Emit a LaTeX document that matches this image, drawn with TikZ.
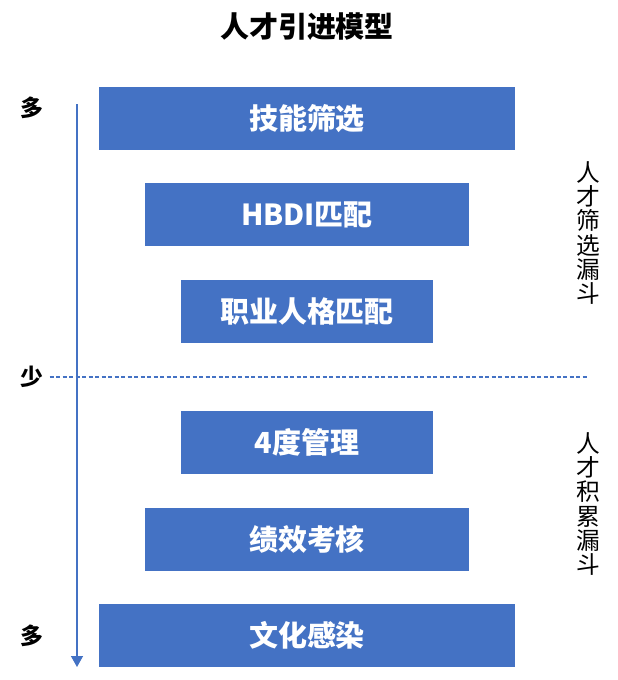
\documentclass[tikz,border=0pt]{standalone}
\usepackage{fontspec}
\setmainfont{Noto Sans CJK SC}
\usetikzlibrary{arrows.meta, positioning}
\definecolor{funnel_blue}{RGB}{68, 114, 196}

\begin{document}
\begin{tikzpicture}[
    x=0.02cm, y=-0.02cm,
    % Define the stage box style
    stagebox/.style={
        rectangle,
        minimum width=#1,
        minimum height=1.26cm,
        inner sep=0pt,
        fill=funnel_blue,
        text=white,
        font=\fontsize{16.5}{20}\selectfont\bfseries
    },
    % Side mark style
    amount/.style={
        text=black,
        font=\fontsize{13}{15}\selectfont\bfseries
    },
    % Vertical funnel label style
    funnel/.style={
        align=center,
        text=black,
        font=\fontsize{13.5}{13.7}\selectfont
    }
]
\useasboundingbox (0,0) rectangle (618,680);

\node[font=\fontsize{16.5}{20}\selectfont\bfseries] (title) at (307,27) {人才引进模型};

% Position the six stages
\node[stagebox=8.32cm] (skill) at (307,118.5) {技能筛选};
\node[stagebox=6.48cm] (hbdi) at (307,214.5) {HBDI匹配};
\node[stagebox=5.04cm] (career) at (307,311.5) {职业人格匹配};
\node[stagebox=5.04cm] (degree) at (307,442.5) {4度管理};
\node[stagebox=6.48cm] (perf) at (307,539.5) {绩效考核};
\node[stagebox=8.32cm] (culture) at (307,635.5) {文化感染};

% Amount marks on the left
\node[amount] (many_top) at (32,108) {多};
\node[amount] (few) at (32,377) {少};
\node[amount] (many_bottom) at (32,636) {多};

% Axis arrow and divider
\coordinate (axis_top) at (77,104);
\coordinate (axis_bottom) at (77,667);
\coordinate (divider_end) at (588,377);
\draw[funnel_blue, line width=0.8pt, -{Triangle[width=0.24cm, length=0.22cm]}] (axis_top) -- (axis_bottom);
\draw[funnel_blue, line width=0.6pt, dash pattern=on 2.3pt off 1.4pt] (few.east) -- (divider_end);

% Funnel labels on the right
\node[funnel] (screen) at (588,233) {人\\才\\筛\\选\\漏\\斗};
\node[funnel] (accumulate) at (588,504) {人\\才\\积\\累\\漏\\斗};

\end{tikzpicture}
\end{document}
